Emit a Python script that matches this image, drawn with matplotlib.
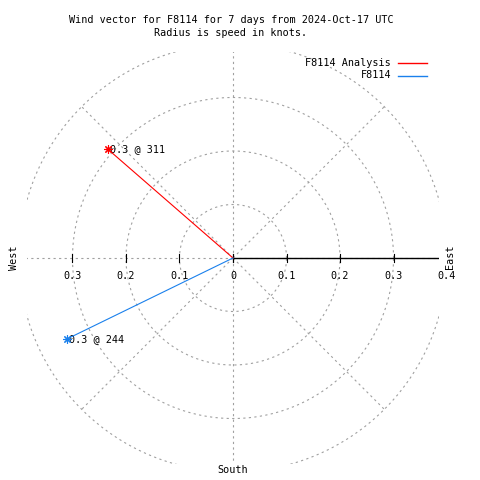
import numpy as np
import matplotlib
matplotlib.use("Agg")
import matplotlib.pyplot as plt

# ---- data ----
series_names = ["F8114 Analysis", "F8114"]
series_colors = ["#ff0000", "#1a80ec"]
speeds = [0.31, 0.345]          # knots (radius)
directions = [311, 244]         # degrees, compass bearing
speed_labels = ["0.3", "0.3"]
ring_values = [0.1, 0.2, 0.3, 0.4]
radial_angles = [0, 45, 90, 135, 180, 225, 270, 315]
tick_values = [0.1, 0.2, 0.3]
east_tick_labels = ["0", "0.1", "0.2", "0.3", "0.4"]
west_tick_labels = ["0", "0.1", "0.2", "0.3"]
rmax = 0.385
title1 = "Wind vector for F8114 for 7 days from 2024-Oct-17 UTC"
title2 = "Radius is speed in knots."

W = H = 480
fig = plt.figure(figsize=(4.8, 4.8), dpi=100)
cx, cy = 233, 258
half = 206
ax = fig.add_axes([(cx - half) / W, (H - cy - half) / H, 2 * half / W, 2 * half / H])
ax.set_xlim(-rmax, rmax)
ax.set_ylim(-rmax, rmax)
ax.set_aspect("equal")
ax.axis("off")

FONT = dict(family="DejaVu Sans Mono", fontsize=7.3, color="black")
grid_kw = dict(color="#a0a0a0", lw=0.8, linestyle=(0, (2.0, 3.0)))

# rings
th = np.linspace(0, 2 * np.pi, 721)
for r in ring_values:
    ax.plot(r * np.cos(th), r * np.sin(th), **grid_kw, zorder=1)

# radials
for a in radial_angles:
    rad = np.deg2rad(a)
    ax.plot([0, 0.4 * np.sin(rad)], [0, 0.4 * np.cos(rad)], **grid_kw, zorder=1)

# black radius axis
ax.plot([0, rmax], [0, 0], color="black", lw=1.0, zorder=3)
tk = 0.008
for t in [0] + tick_values:
    ax.plot([t, t], [-tk, tk], color="black", lw=0.8, zorder=3)
    ax.plot([-t, -t], [-tk, tk], color="black", lw=0.8, zorder=3)

# tick labels
dy = -0.033
east_vals = [0] + tick_values + [0.4]
for v, lab in zip(east_vals, east_tick_labels):
    ax.text(v, dy, lab, ha="center", va="center", **FONT)
for v, lab in zip([0] + tick_values, west_tick_labels):
    if v == 0:
        continue
    ax.text(-v, dy, lab, ha="center", va="center", **FONT)

# vectors
for name, col, s, d, sl in zip(series_names, series_colors, speeds, directions, speed_labels):
    rad = np.deg2rad(d)
    x, y = s * np.sin(rad), s * np.cos(rad)
    ax.plot([0, x], [0, y], color=col, lw=0.8, zorder=4)
    ax.plot([x], [y], marker=(8, 2, 0), color=col, ms=6, mew=0.8, zorder=5)
    ax.annotate(f"{sl} @ {d}", (x, y), xytext=(1.5, 0), textcoords="offset points",
                ha="left", va="center", **FONT)

# compass labels
fig.text(450 / W, 1 - 257 / H, "East", rotation=90, ha="center", va="center", **FONT)
fig.text(14 / W, 1 - 258 / H, "West", rotation=90, ha="center", va="center", **FONT)
fig.text(233 / W, 1 - 470 / H, "South", ha="center", va="center", **FONT)

# titles
fig.text(231 / W, 1 - 20 / H, title1, ha="center", va="center", **FONT)
fig.text(231 / W, 1 - 33 / H, title2, ha="center", va="center", **FONT)

# legend
for i, (name, col) in enumerate(zip(series_names, series_colors)):
    yy = 1 - (62.5 + 13 * i) / H
    fig.text(391 / W, yy, name, ha="right", va="center", **FONT)
    fig.add_artist(plt.Line2D([398 / W, 427 / W], [yy, yy], color=col, lw=1.0,
                              transform=fig.transFigure))

fig.savefig("out.png", dpi=100)
